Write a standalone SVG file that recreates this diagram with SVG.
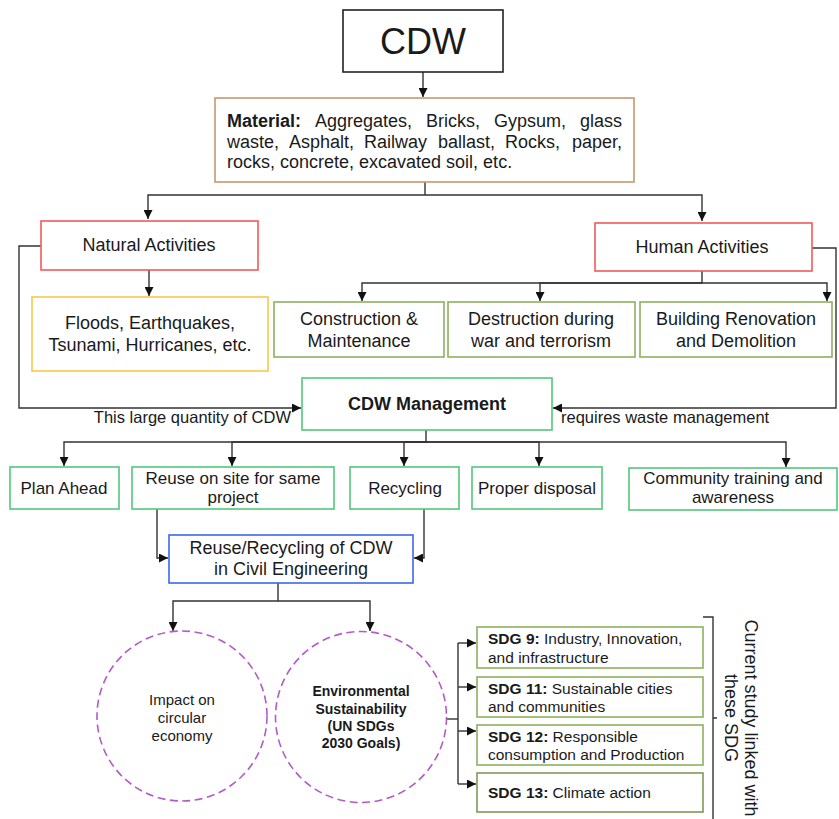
<svg xmlns="http://www.w3.org/2000/svg" width="839" height="819" viewBox="0 0 839 819">
<defs>
<marker id="ah" viewBox="0 0 10 10" refX="10" refY="5" markerWidth="9" markerHeight="9" markerUnits="userSpaceOnUse" orient="auto">
<path d="M0,0 L10,5 L0,10 z" fill="#111"/>
</marker>
<style>
text{font-family:"Liberation Sans",Arial,sans-serif;fill:#1a1a1a;}
.c{text-anchor:middle;}
.f18{font-size:18px;}
.f17{font-size:17px;}
.f16{font-size:16.5px;}
.f15{font-size:15.5px;}
.b{font-weight:bold;}
.box{fill:#fff;stroke-width:1.6;}
.red{stroke:#f25a5a;}
.yel{stroke:#f7c94a;}
.olv{stroke:#8db15c;}
.grn{stroke:#52c77c;}
.blu{stroke:#3c66f0;}
.brn{stroke:#c49a6c;}
.circ{fill:#fff;stroke:#b45ac8;stroke-width:1.6;stroke-dasharray:8 4.5;}
.ln{fill:none;stroke:#333;stroke-width:1.4;}
.ar{marker-end:url(#ah);}
</style>
</defs>
<rect width="839" height="819" fill="#fff"/>

<g id="connectors">
<path class="ln ar" d="M423,72 V97"/>
<path class="ln" d="M425,182 V195"/>
<path class="ln ar" d="M425,195 H148 V219"/>
<path class="ln ar" d="M425,195 H702 V221"/>
<path class="ln ar" d="M149,270 V296"/>
<path class="ln ar" d="M702,271 V283 H362 V301"/>
<path class="ln ar" d="M702,283 H540 V301"/>
<path class="ln ar" d="M702,283 H827 V301"/>
<path class="ln ar" d="M41,246 H19 V408 H301"/>
<path class="ln ar" d="M812,248 H836 V408 H553"/>
<path class="ln ar" d="M426,430 V442 H64 V466"/>
<path class="ln ar" d="M426,442 H232 V466"/>
<path class="ln ar" d="M426,442 H404 V466"/>
<path class="ln ar" d="M426,442 H539 V466"/>
<path class="ln ar" d="M426,442 H786 V467"/>
<path class="ln ar" d="M157,509 V558 H168"/>
<path class="ln ar" d="M424,509 V558 H414"/>
<path class="ln ar" d="M278,583 V601 H173 V631"/>
<path class="ln ar" d="M278,601 H370 V631"/>
<path class="ln" d="M447,719 H458"/>
<path class="ln" d="M458,643 V784"/>
<path class="ln ar" d="M458,643 H476"/>
<path class="ln ar" d="M458,687 H476"/>
<path class="ln ar" d="M458,731 H476"/>
<path class="ln ar" d="M458,784 H476"/>
<text class="f16" x="291" y="423" text-anchor="end">This large quantity of CDW</text>
<text class="f16" x="561" y="423">requires waste management</text>
</g>

<g id="cdw">
<rect class="box" x="343" y="10" width="160" height="62" style="stroke:#222"/>
<text class="c" x="423" y="54" style="font-size:36px">CDW</text>
</g>

<g id="material">
<rect class="box brn" x="215" y="98" width="419" height="84"/>
<g class="f18">
<text x="227" y="127" class="b">Material:</text>
<text x="315" y="127">Aggregates,</text>
<text x="426" y="127">Bricks,</text>
<text x="494" y="127">Gypsum,</text>
<text x="622" y="127" text-anchor="end">glass</text>
<text x="227" y="147.5">waste,</text>
<text x="289" y="147.5">Asphalt,</text>
<text x="364" y="147.5">Railway</text>
<text x="438" y="147.5">ballast,</text>
<text x="505" y="147.5">Rocks,</text>
<text x="622" y="147.5" text-anchor="end">paper,</text>
<text x="227" y="168">rocks, concrete, excavated soil, etc.</text>
</g>
</g>

<g id="natural">
<rect class="box red" x="41" y="221" width="217" height="49"/>
<text class="c f18" x="149" y="251">Natural Activities</text>
</g>

<g id="human">
<rect class="box red" x="595" y="223" width="217" height="48"/>
<text class="c f18" x="702" y="253">Human Activities</text>
</g>

<g id="floods">
<rect class="box yel" x="32" y="297" width="236" height="74"/>
<text class="c f18" x="150" y="329">Floods, Earthquakes,</text>
<text class="c f18" x="150" y="351">Tsunami, Hurricanes, etc.</text>
</g>

<g id="construction">
<rect class="box olv" x="274" y="302" width="170" height="55"/>
<text class="c f18" x="359" y="325">Construction &amp;</text>
<text class="c f18" x="359" y="347">Maintenance</text>
</g>

<g id="destruction">
<rect class="box olv" x="448" y="302" width="187" height="55"/>
<text class="c f18" x="541" y="325">Destruction during</text>
<text class="c f18" x="541" y="347">war and terrorism</text>
</g>

<g id="renovation">
<rect class="box olv" x="640" y="302" width="192" height="55"/>
<text class="c f18" x="736" y="325">Building Renovation</text>
<text class="c f18" x="736" y="347">and Demolition</text>
</g>

<g id="management">
<rect class="box grn" x="302" y="378" width="250" height="52"/>
<text class="c f18 b" x="427" y="410">CDW Management</text>
</g>

<g id="plan">
<rect class="box grn" x="10" y="467" width="109" height="42"/>
<text class="c f17" x="64" y="494">Plan Ahead</text>
</g>

<g id="reuse">
<rect class="box grn" x="132" y="467" width="202" height="42"/>
<text class="c f17" x="233" y="484">Reuse on site for same</text>
<text class="c f17" x="233" y="503">project</text>
</g>

<g id="recycling">
<rect class="box grn" x="350" y="467" width="109" height="42"/>
<text class="c f17" x="405" y="494">Recycling</text>
</g>

<g id="disposal">
<rect class="box grn" x="472" y="467" width="130" height="42"/>
<text class="c f17" x="537" y="494">Proper disposal</text>
</g>

<g id="community">
<rect class="box grn" x="629" y="468" width="208" height="42"/>
<text class="c f17" x="733" y="484">Community training and</text>
<text class="c f17" x="733" y="503">awareness</text>
</g>

<g id="reuserecycling">
<rect class="box blu" x="169" y="535" width="244" height="48"/>
<text class="c f18" x="291" y="554">Reuse/Recycling of CDW</text>
<text class="c f18" x="291" y="575">in Civil Engineering</text>
</g>

<g id="circular">
<circle class="circ" cx="182" cy="716" r="85"/>
<text class="c" x="182" y="705" style="font-size:15px">Impact on</text>
<text class="c" x="182" y="723" style="font-size:15px">circular</text>
<text class="c" x="182" y="741" style="font-size:15px">economy</text>
</g>

<g id="environmental">
<circle class="circ" cx="361" cy="717" r="85.5"/>
<g class="b" style="font-size:14px">
<text class="c" x="361" y="696">Environmental</text>
<text class="c" x="361" y="714">Sustainability</text>
<text class="c" x="361" y="731">(UN SDGs</text>
<text class="c" x="361" y="748">2030 Goals)</text>
</g>
</g>

<g id="sdg9">
<rect class="box olv" x="477" y="627" width="226" height="41"/>
<text class="f15" x="488" y="644"><tspan class="b">SDG 9:</tspan> Industry, Innovation,</text>
<text class="f15" x="488" y="663">and infrastructure</text>
</g>

<g id="sdg11">
<rect class="box olv" x="477" y="677" width="226" height="40"/>
<text class="f15" x="488" y="694"><tspan class="b">SDG 11:</tspan> Sustainable cities</text>
<text class="f15" x="488" y="712">and communities</text>
</g>

<g id="sdg12">
<rect class="box olv" x="477" y="725" width="226" height="40"/>
<text class="f15" x="488" y="742"><tspan class="b">SDG 12:</tspan> Responsible</text>
<text class="f15" x="488" y="760">consumption and Production</text>
</g>

<g id="sdg13">
<rect class="box" x="477" y="773" width="226" height="39" style="stroke:#7f9a55"/>
<text class="f15" x="488" y="798"><tspan class="b">SDG 13:</tspan> Climate action</text>
</g>

<g id="bracket">
<path class="ln" d="M703,617 H713 V819 M713,718 H717"/>
<g transform="translate(745,718) rotate(90)">
<text class="c f18" x="0" y="0">Current study linked with</text>
<text class="c f18" x="0" y="20">these SDG</text>
</g>
</g>
</svg>
